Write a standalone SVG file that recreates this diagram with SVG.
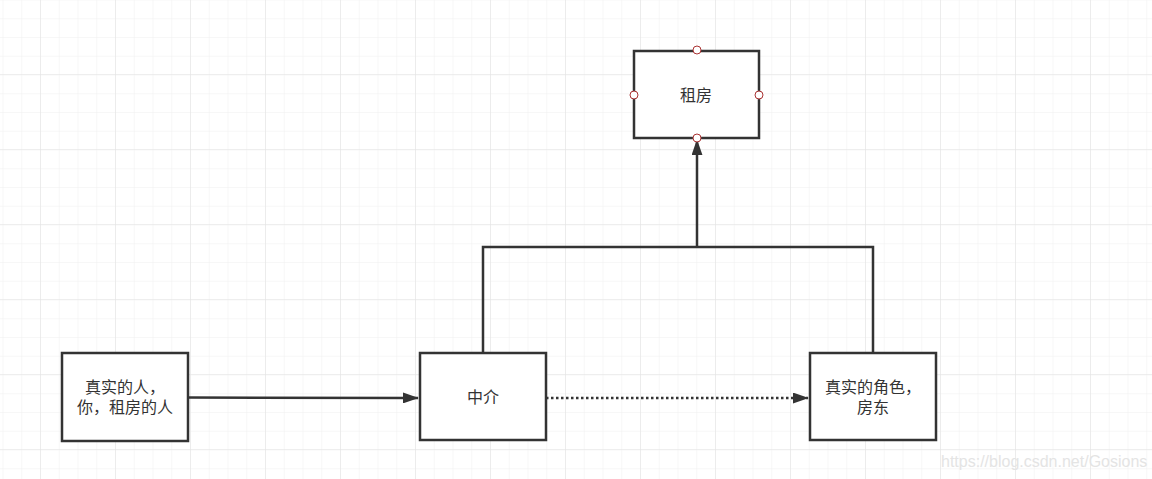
<svg xmlns="http://www.w3.org/2000/svg" width="1152" height="479" viewBox="0 0 1152 479">
<defs>
<pattern id="minor" x="2.5" y="-0.5" width="18.75" height="18.75" patternUnits="userSpaceOnUse">
<path d="M0 0V18.75M0 0H18.75" fill="none" stroke="#efefef" stroke-width="1"/>
</pattern>
<pattern id="major" x="40" y="74" width="75" height="75" patternUnits="userSpaceOnUse">
<path d="M0 0V75M0 0H75" fill="none" stroke="#e2e2e2" stroke-width="1"/>
</pattern>
<marker id="arrB" viewBox="0 0 10 10" refX="9.5" refY="5" markerWidth="16" markerHeight="11" orient="auto" markerUnits="userSpaceOnUse" preserveAspectRatio="none">
<path d="M0 0L10 5L0 10Z" fill="#333"/>
</marker>
</defs>
<style>
.box{fill:#fff;stroke:#333;stroke-width:2.5}
.lbl{font-family:"Liberation Sans","Noto Sans CJK SC",sans-serif;font-size:16px;fill:#333;text-anchor:middle}
.ln{fill:none;stroke:#333;stroke-width:2.5}
.pt{fill:#fff;stroke:#a33;stroke-width:1}
</style>
<rect width="1152" height="479" fill="#fff"/>
<rect width="1152" height="479" fill="url(#minor)"/>
<rect width="1152" height="479" fill="url(#major)"/>
<g id="connectors">
<path class="ln" d="M188 397.5L418 398" marker-end="url(#arrB)"/>
<path class="ln" d="M546 398L808 398" stroke-dasharray="2.5 2.5" marker-end="url(#arrB)"/>
<path class="ln" d="M483 353V247H873V353"/>
<path class="ln" d="M697 247V140" marker-end="url(#arrB)"/>
</g>
<g id="node-zufang">
<rect class="box" x="634" y="51" width="125" height="87"/>
<text class="lbl" x="696" y="101">租房</text>
<circle class="pt" cx="697" cy="50" r="4"/>
<circle class="pt" cx="634" cy="95" r="4"/>
<circle class="pt" cx="759" cy="95" r="4"/>
<circle class="pt" cx="697" cy="138" r="4"/>
</g>
<g id="node-tenant">
<rect class="box" x="62" y="353" width="126" height="88"/>
<text class="lbl" x="125" y="393">真实的人，</text>
<text class="lbl" x="125" y="413">你，租房的人</text>
</g>
<g id="node-agent">
<rect class="box" x="420" y="353" width="126" height="87"/>
<text class="lbl" x="483" y="403">中介</text>
</g>
<g id="node-landlord">
<rect class="box" x="810" y="353" width="126" height="87"/>
<text class="lbl" x="873" y="393">真实的角色，</text>
<text class="lbl" x="873" y="413">房东</text>
</g>
<text x="941" y="467" font-family="Liberation Sans,sans-serif" font-size="16" fill="#e4e4e4">https://blog.csdn.net/Gosions</text>
</svg>
